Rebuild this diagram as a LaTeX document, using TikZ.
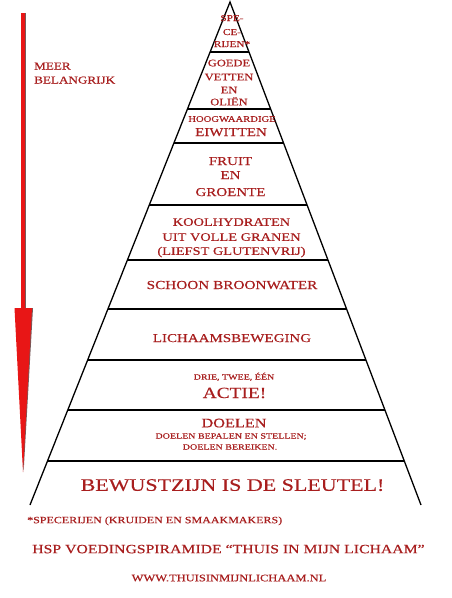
\documentclass[tikz,border=0pt]{standalone}
\usepackage{fontspec}
\setmainfont{Liberation Serif}[FakeStretch=1.25,FakeBold=0.4]
\usetikzlibrary{calc}
\definecolor{txtred}{RGB}{168,30,30}
\definecolor{arrred}{RGB}{232,22,22}
\definecolor{arrshadow}{RGB}{120,90,90}
\newcommand\tsz[1]{\fontsize{#1}{#1}\selectfont}
\begin{document}
\begin{tikzpicture}[x=1pt,y=-1pt,
  lbl/.style={text=txtred, inner sep=0pt, anchor=base},
  lblw/.style={text=txtred, inner sep=0pt, anchor=base west},
  side/.style={line width=1.3pt, black},
  divider/.style={line width=1.8pt, black}]
\useasboundingbox[fill=white] (0,0) rectangle (452,598);
% pyramid
\coordinate (A) at (230,2);
\coordinate (BL) at (30,505);
\coordinate (BR) at (421,505);
\draw[side] (BL) -- (A) -- (BR);
\foreach \yy in {52,109,143,205,260,309,360,410,461}{
  \pgfmathsetmacro\tt{(\yy-2)/503}
  \draw[divider] ($(A)!\tt!(BL)$) -- ($(A)!\tt!(BR)$);
}
% arrow
\coordinate (s0) at (23,13);
\coordinate (s1) at (23,309);
\coordinate (hl) at (14.5,308);
\coordinate (hr) at (32,308);
\coordinate (tip) at (23,472);
\draw[arrshadow, line width=3.5pt] ($(s0)+(1,0)$) -- ($(s1)+(1,0)$);
\fill[arrshadow] ($(hl)+(1,0)$) -- ($(hr)+(1,0)$) -- ($(tip)+(0.6,0)$) -- cycle;
\draw[arrred, line width=3.5pt] (s0) -- (s1);
\fill[arrred] (hl) -- (hr) -- (tip) -- cycle;
% side label
\node[lblw, font=\tsz{10.5}] (m1) at (34,69.5) {MEER};
\node[lblw, font=\tsz{10.5}] (m2) at (34,83.5) {BELANGRIJK};
% layer texts
\node[lbl, font=\tsz{9}] (a1) at (232,21) {SPE-};
\node[lbl, font=\tsz{9}] (a2) at (232,35) {CE-};
\node[lbl, font=\tsz{9}] (a3) at (232,47) {RIJEN*};
\node[lbl, font=\tsz{10}] (b1) at (229,66.3) {GOEDE};
\node[lbl, font=\tsz{10}] (b2) at (229,80.3) {VETTEN};
\node[lbl, font=\tsz{10}] (b3) at (229,93.3) {EN};
\node[lbl, font=\tsz{10}] (b4) at (229,105.3) {OLIËN};
\node[lbl, font=\tsz{8.5}] (c1) at (232,121.8) {HOOGWAARDIGE};
\node[lbl, font=\tsz{12}] (c2) at (231,136) {EIWITTEN};
\node[lbl, font=\tsz{12}] (d1) at (230.5,165) {FRUIT};
\node[lbl, font=\tsz{12}] (d2) at (230.5,179) {EN};
\node[lbl, font=\tsz{12}] (d3) at (230.5,196) {GROENTE};
\node[lbl, font=\tsz{11.5}] (e1) at (231.5,225.8) {KOOLHYDRATEN};
\node[lbl, font=\tsz{11.5}] (e2) at (231.5,240.8) {UIT VOLLE GRANEN};
\node[lbl, font=\tsz{11.5}] (e3) at (231.5,254.8) {(LIEFST GLUTENVRIJ)};
\node[lbl, font=\tsz{12.2}] (f1) at (232,289) {SCHOON BROONWATER};
\node[lbl, font=\tsz{12}] (g1) at (232,342) {LICHAAMSBEWEGING};
\node[lbl, font=\tsz{8}] (h1) at (234,379.6) {DRIE, TWEE, ÉÉN};
\node[lbl, font=\tsz{15.5}] (h2) at (234.5,398) {ACTIE!};
\node[lbl, font=\tsz{13}] (i1) at (234,427.3) {DOELEN};
\node[lbl, font=\tsz{8}] (i2) at (231,438.6) {DOELEN BEPALEN EN STELLEN;};
\node[lbl, font=\tsz{8}] (i3) at (230,449.6) {DOELEN BEREIKEN.};
\node[lbl, font=\tsz{17.6}] (j1) at (232.5,490.8) {BEWUSTZIJN IS DE SLEUTEL!};
% footer
\node[lblw, font=\tsz{9.6}] (k1) at (27,523.2) {*SPECERIJEN (KRUIDEN EN SMAAKMAKERS)};
\node[lbl, font=\tsz{12.6}] (k2) at (228.5,553.2) {HSP VOEDINGSPIRAMIDE “THUIS IN MIJN LICHAAM”};
\node[lbl, font=\tsz{10}] (k3) at (229,581.3) {WWW.THUISINMIJNLICHAAM.NL};
\end{tikzpicture}
\end{document}
